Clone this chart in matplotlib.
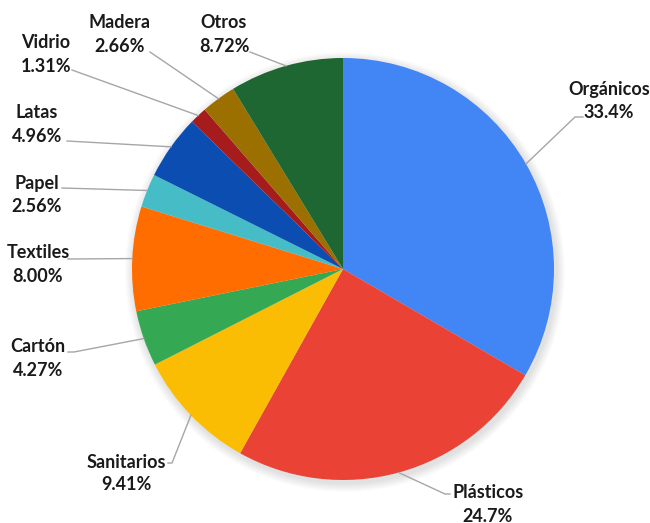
import numpy as np
import matplotlib
matplotlib.use("Agg")
import matplotlib.pyplot as plt
from matplotlib.patches import Circle

categories = ["Orgánicos", "Plásticos", "Sanitarios", "Cartón", "Textiles",
              "Papel", "Latas", "Vidrio", "Madera", "Otros"]
values = [33.4, 24.7, 9.41, 4.27, 8.00, 2.56, 4.96, 1.31, 2.66, 8.72]
pct_labels = ["33.4%", "24.7%", "9.41%", "4.27%", "8.00%",
              "2.56%", "4.96%", "1.31%", "2.66%", "8.72%"]
colors = ["#4285F4", "#EA4335", "#FBBC04", "#34A853", "#FF6D01",
          "#46BDC6", "#0B4DB0", "#A61C1C", "#9C7000", "#1E6632"]

W, H = 650, 523
fig = plt.figure(figsize=(6.5, 5.23), dpi=100)
ax = fig.add_axes([0, 0, 1, 1])

def Y(y):
    return H - y

cx, cy, r = 343, 269, 211

# soft shadow
for k in range(10):
    ax.add_patch(Circle((cx + 2, Y(cy + 3)), r + 1 + k * 0.9, color="black",
                        alpha=0.012, lw=0, zorder=0))

wedges, _ = ax.pie(values, colors=colors, startangle=90, counterclock=False,
                   center=(cx, Y(cy)), radius=r, frame=True,
                   wedgeprops=dict(linewidth=0))
ax.set_xlim(0, W)
ax.set_ylim(0, H)
ax.set_aspect("equal")
ax.axis("off")

# label layout (pixel coords): text x, name y, pct y, line end x, line end y, elbow x
layout = {
    "Orgánicos": (609, 89, 113, 583, 117, 575),
    "Plásticos": (488, 493, 516, 450, 494, 445),
    "Sanitarios": (126, 462, 485, 168, 463, 172),
    "Cartón": (38, 347, 370, 68, 352, 74),
    "Textiles": (38, 253, 277, 68, 259, 68),
    "Papel": (37, 184, 207, 62, 188, 62),
    "Latas": (37, 113, 136, 67, 141, 67),
    "Vidrio": (46, 43, 66, 72, 70, 72),
    "Madera": (120, 22, 46, 150, 52, 150),
    "Otros": (224, 22, 46, 250, 52, 250),
}

font = dict(family=["Lato", "DejaVu Sans"], weight="bold", size=13,
            color="#1a1a1a")
for w, name, pct in zip(wedges, categories, pct_labels):
    ang = np.deg2rad((w.theta1 + w.theta2) / 2)
    x0 = cx + r * np.cos(ang)
    y0 = Y(cy) + r * np.sin(ang)
    tx, ny, py, ex, ey, elx = layout[name]
    ax.plot([x0, elx, ex], [y0, Y(ey), Y(ey)], color="#a6a6a6", lw=1.0,
            zorder=3)
    ax.text(tx, Y(ny), name, ha="center", va="center", **font)
    ax.text(tx, Y(py), pct, ha="center", va="center", **font)

fig.savefig("out.png", dpi=100, facecolor="white")
